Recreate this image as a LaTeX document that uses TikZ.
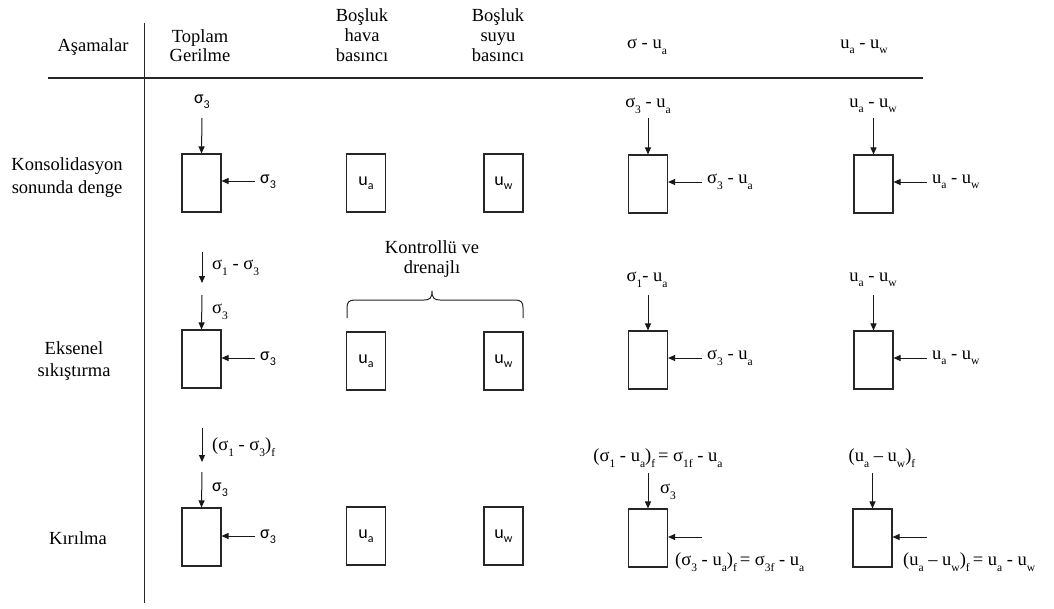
\documentclass[tikz,border=0pt]{standalone}
\usepackage{fontspec}
\setmainfont{Liberation Serif}
\newfontfamily\sansf{Carlito}
\usetikzlibrary{arrows.meta}
\newcommand\sbs[1]{\raisebox{-0.3em}{\fontsize{11.5}{12}\selectfont #1}}
\newcommand\csbs[1]{\raisebox{-0.25em}{\fontsize{12}{12}\selectfont #1}}
\begin{document}
\begin{tikzpicture}[x=1pt,y=-1pt,
  txt/.style={inner sep=0pt,font=\fontsize{18.5}{21}\selectfont,align=center},
  stxt/.style={inner sep=0pt,font=\sansf\fontsize{18}{20}\selectfont},
  cell/.style={draw=black!85,line width=1.1pt,minimum width=39pt,minimum height=58pt,inner sep=0pt},
  arr/.style={draw=black!90,line width=1pt,-{Triangle[length=7pt,width=6pt]}},
  rule/.style={draw=black!85,line width=1.3pt}]
\useasboundingbox (0,0) rectangle (1054,608);
% grid lines
\coordinate (vtop) at (144.5,23);
\coordinate (vbot) at (144.5,603);
\coordinate (hl) at (48,78);
\coordinate (hr) at (923,78);
\draw[rule] (vtop) -- (vbot);
\draw[rule] (hl) -- (hr);
% headers
\node[txt] (hA) at (93,47) {Aşamalar};
\node[txt] (hT) at (200,46) {Toplam\\[-2pt]Gerilme};
\node[txt] (hH) at (362,35) {Boşluk\\[-1pt]hava\\[-1pt]basıncı};
\node[txt] (hS) at (498,35) {Boşluk\\[-1pt]suyu\\[-1pt]basıncı};
\node[txt] (hN) at (647,47) {σ - u\sbs{a}};
\node[txt] (hM) at (864,47) {u\sbs{a} - u\sbs{w}};
% row labels
\node[txt] (r1) at (67,178) {Konsolidasyon\\[2pt]sonunda denge};
\node[txt] (r2) at (74,361) {Eksenel\\[1pt]sıkıştırma};
\node[txt] (r3) at (78,538) {Kırılma};
% ---------- row 1 ----------
\node[cell] (b11) at (201.5,183) {};
\node[cell] (b12) at (366,183) {\sansf\fontsize{18}{20}\selectfont u\csbs{a}};
\node[cell] (b13) at (503.5,183) {\sansf\fontsize{18}{20}\selectfont u\csbs{w}};
\node[cell] (b14) at (648,184) {};
\node[cell] (b15) at (873.5,184) {};
\node[stxt] (l11t) at (202,102) {σ\csbs{3}};
\coordinate (a11t) at (202,118);
\draw[arr] (a11t) -- (b11.north);
\coordinate (a11s) at (255,181);
\draw[arr] (a11s) -- (b11.east|-a11s);
\node[stxt,anchor=west] (l11s) at (260,182) {σ\csbs{3}};
\node[txt] (l14t) at (648,106) {σ\sbs{3} - u\sbs{a}};
\coordinate (a14t) at (648,118);
\draw[arr] (a14t) -- (b14.north);
\coordinate (a14s) at (702,182);
\draw[arr] (a14s) -- (b14.east|-a14s);
\node[txt,anchor=west] (l14s) at (707,182) {σ\sbs{3} - u\sbs{a}};
\node[txt] (l15t) at (873,106) {u\sbs{a} - u\sbs{w}};
\coordinate (a15t) at (873.5,118);
\draw[arr] (a15t) -- (b15.north);
\coordinate (a15s) at (927,182);
\draw[arr] (a15s) -- (b15.east|-a15s);
\node[txt,anchor=west] (l15s) at (932,182) {u\sbs{a} - u\sbs{w}};
% ---------- row 2 ----------
\node[cell] (b21) at (201.5,359) {};
\node[cell] (b22) at (366,361) {\sansf\fontsize{18}{20}\selectfont u\csbs{a}};
\node[cell] (b23) at (503.5,361) {\sansf\fontsize{18}{20}\selectfont u\csbs{w}};
\node[cell] (b24) at (648,360) {};
\node[cell] (b25) at (873.5,360) {};
\coordinate (a21a) at (202,252);
\coordinate (a21b) at (202,283);
\draw[arr] (a21a) -- (a21b);
\node[txt,anchor=west] (l21a) at (212,268) {σ\sbs{1} - σ\sbs{3}};
\coordinate (a21t) at (202,295);
\draw[arr] (a21t) -- (b21.north);
\node[txt,anchor=west] (l21t) at (212,312) {σ\sbs{3}};
\coordinate (a21s) at (255,358);
\draw[arr] (a21s) -- (b21.east|-a21s);
\node[stxt,anchor=west] (l21s) at (260,359) {σ\csbs{3}};
% brace
\node[txt] (kd) at (432,259) {Kontrollü ve\\[-1pt]drenajlı};
\coordinate (brL) at (347,318);
\coordinate (brR) at (523,318);
\coordinate (brM) at (432,291);
\draw[draw=black!85,line width=1pt] (brL) -- (347,308) .. controls (347,302) and (349,300) .. (355,300)
  -- (424,300) .. controls (430,300) and (432,298) .. (brM)
  .. controls (432,298) and (434,300) .. (440,300) -- (515,300)
  .. controls (521,300) and (523,302) .. (523,308) -- (brR);
\node[txt] (l24t) at (647,280) {σ\sbs{1}- u\sbs{a}};
\coordinate (a24t) at (648,295);
\draw[arr] (a24t) -- (b24.north);
\coordinate (a24s) at (702,358);
\draw[arr] (a24s) -- (b24.east|-a24s);
\node[txt,anchor=west] (l24s) at (707,358) {σ\sbs{3} - u\sbs{a}};
\node[txt] (l25t) at (873,280) {u\sbs{a} - u\sbs{w}};
\coordinate (a25t) at (873.5,295);
\draw[arr] (a25t) -- (b25.north);
\coordinate (a25s) at (927,358);
\draw[arr] (a25s) -- (b25.east|-a25s);
\node[txt,anchor=west] (l25s) at (932,358) {u\sbs{a} - u\sbs{w}};
% ---------- row 3 ----------
\node[cell] (b31) at (201.5,537) {};
\node[cell] (b32) at (366,536) {\sansf\fontsize{18}{20}\selectfont u\csbs{a}};
\node[cell] (b33) at (503.5,536) {\sansf\fontsize{18}{20}\selectfont u\csbs{w}};
\node[cell] (b34) at (648,538) {};
\node[cell] (b35) at (872.5,538) {};
\coordinate (a31a) at (202,428);
\coordinate (a31b) at (202,462);
\draw[arr] (a31a) -- (a31b);
\node[txt,anchor=west] (l31a) at (212,447) {(σ\sbs{1} - σ\sbs{3})\sbs{f}};
\coordinate (a31t) at (202,472);
\draw[arr] (a31t) -- (b31.north);
\node[stxt,anchor=west] (l31t) at (212,490) {σ\csbs{3}};
\coordinate (a31s) at (255,536);
\draw[arr] (a31s) -- (b31.east|-a31s);
\node[stxt,anchor=west] (l31s) at (260,537) {σ\csbs{3}};
\node[txt] (l34t) at (658,458) {(σ\sbs{1} - u\sbs{a})\sbs{f}\,= σ\sbs{1f} - u\sbs{a}};
\coordinate (a34t) at (648,473);
\draw[arr] (a34t) -- (b34.north);
\node[txt,anchor=west] (l34m) at (660,492) {σ\sbs{3}};
\coordinate (a34s) at (702,537);
\draw[arr] (a34s) -- (b34.east|-a34s);
\node[txt,anchor=west] (l34s) at (675,562) {(σ\sbs{3} - u\sbs{a})\sbs{f}\,= σ\sbs{3f} - u\sbs{a}};
\node[txt] (l35t) at (882,458) {(u\sbs{a} – u\sbs{w})\sbs{f}};
\coordinate (a35t) at (872.5,473);
\draw[arr] (a35t) -- (b35.north);
\coordinate (a35s) at (927,537);
\draw[arr] (a35s) -- (b35.east|-a35s);
\node[txt,anchor=west] (l35s) at (903,562) {(u\sbs{a} – u\sbs{w})\sbs{f}\,= u\sbs{a} - u\sbs{w}};
\end{tikzpicture}
\end{document}
